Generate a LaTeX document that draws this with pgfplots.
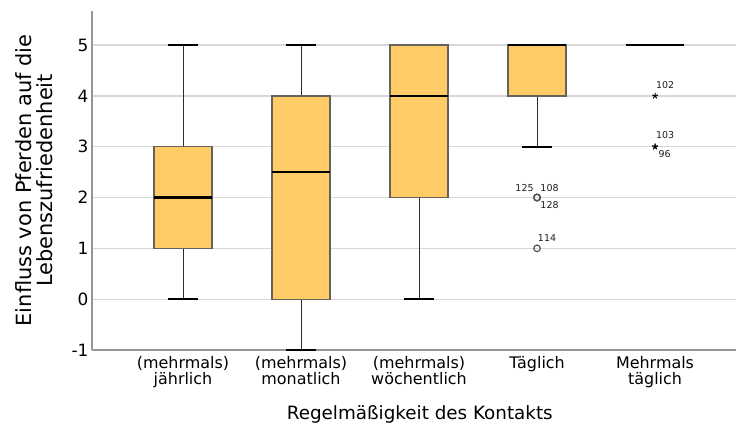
\documentclass[border=0pt]{standalone}
\usepackage{fontspec}
\setmainfont{DejaVu Sans}
\usepackage{pgfplots}
\pgfplotsset{compat=1.18}
\usepgfplotslibrary{statistics}

\definecolor{boxfill}{RGB}{254,203,103}
\definecolor{boxedge}{RGB}{100,98,90}
\definecolor{gridgray}{RGB}{215,215,215}
\definecolor{spinegray}{RGB}{150,150,150}
\definecolor{whiskergray}{RGB}{45,45,45}
\definecolor{outliergray}{RGB}{85,85,85}
\definecolor{labelgray}{RGB}{30,30,30}

\begin{document}
\begin{tikzpicture}[
  lab/.style={font=\fontsize{9.5}{9.5}\selectfont, text=labelgray, inner sep=0pt},
]
\begin{axis}[
  scale only axis, width=644bp, height=339bp,
  xmin=0.229, xmax=5.686, ymin=-1, ymax=5.67,
  axis x line*=bottom, axis y line*=left,
  axis line style={spinegray, line width=1.5bp},
  major tick length=0pt,
  ytick={-1,0,1,2,3,4,5},
  ymajorgrids, grid style={gridgray, line width=1.3bp},
  xtick={1,2,3,4,5},
  xticklabels={{(mehrmals)\\jährlich},{(mehrmals)\\monatlich},{(mehrmals)\\wöchentlich},{Täglich},{Mehrmals\\täglich}},
  xticklabel style={align=center, font=\fontsize{16}{16}\selectfont, yshift=-3bp},
  yticklabel style={font=\fontsize{17}{17}\selectfont},
  /pgf/number format/assume math mode=true,
  xlabel={Regelmäßigkeit des Kontakts},
  xlabel style={font=\fontsize{18.4}{18.4}\selectfont, at={(axis description cs:0.509,0)}, anchor=base, yshift=-69bp},
  ylabel={Einfluss von Pferden auf die\\Lebenszufriedenheit},
  ylabel style={font=\fontsize{21}{21}\selectfont, align=center, at={(axis description cs:-0.061,0.5)}, anchor=south, inner sep=0pt},
  boxplot/draw direction=y,
  boxplot/box extend=0.49,
  boxplot/whisker extend=0.25,
  boxplot/every box/.style={draw=boxedge, fill=boxfill, line width=1.3bp},
  boxplot/every median/.style={draw=black, line width=2.5bp},
  boxplot/draw/lower whisker/.code={%
    \draw[whiskergray, line width=0.9bp]
      (boxplot box cs:\pgfplotsboxplotvalue{lower whisker},0.5) --
      (boxplot box cs:\pgfplotsboxplotvalue{lower quartile},0.5);
    \draw[black, line width=2.2bp]
      (boxplot whisker cs:\pgfplotsboxplotvalue{lower whisker},0) --
      (boxplot whisker cs:\pgfplotsboxplotvalue{lower whisker},1);
  },
  boxplot/draw/upper whisker/.code={%
    \draw[whiskergray, line width=0.9bp]
      (boxplot box cs:\pgfplotsboxplotvalue{upper quartile},0.5) --
      (boxplot box cs:\pgfplotsboxplotvalue{upper whisker},0.5);
    \draw[black, line width=2.2bp]
      (boxplot whisker cs:\pgfplotsboxplotvalue{upper whisker},0) --
      (boxplot whisker cs:\pgfplotsboxplotvalue{upper whisker},1);
  },
]
% (mehrmals) jährlich
\addplot[boxplot prepared={draw position=1,
  lower whisker=0, lower quartile=1, median=2, upper quartile=3, upper whisker=5}]
  coordinates {};
% (mehrmals) monatlich
\addplot[boxplot prepared={draw position=2,
  lower whisker=-1, lower quartile=0, median=2.5, upper quartile=4, upper whisker=5}]
  coordinates {};
% (mehrmals) wöchentlich
\addplot[boxplot prepared={draw position=3,
  lower whisker=0, lower quartile=2, median=4, upper quartile=5, upper whisker=5}]
  coordinates {};
% Täglich, with outliers
\addplot[mark=o, mark size=3.3bp,
  mark options={draw=outliergray, line width=1.2bp, fill=white},
  boxplot prepared={draw position=4,
  lower whisker=3, lower quartile=4, median=5, upper quartile=5, upper whisker=5}]
  table[row sep=\\, y index=0] {y\\ 2\\ 2\\ 2\\ 1\\};
% Mehrmals täglich, with extreme values
\addplot[mark=star, mark size=3bp,
  mark options={draw=black, line width=1bp},
  boxplot prepared={draw position=5,
  lower whisker=5, lower quartile=5, median=5, upper quartile=5, upper whisker=5}]
  table[row sep=\\, y index=0] {y\\ 4\\ 3\\ 3\\};

% case numbers of the outliers
\node[lab, xshift=-12.5bp, yshift=9bp]  at (axis cs:4,2) {125};
\node[lab, xshift=12.5bp,  yshift=9bp]  at (axis cs:4,2) {108};
\node[lab, xshift=12.5bp,  yshift=-7.8bp] at (axis cs:4,2) {128};
\node[lab, xshift=10bp,    yshift=10.7bp] at (axis cs:4,1) {114};
\node[lab, xshift=10bp,    yshift=11.3bp] at (axis cs:5,4) {102};
\node[lab, xshift=10bp,    yshift=11.3bp] at (axis cs:5,3) {103};
\node[lab, xshift=9.5bp,   yshift=-7.4bp] at (axis cs:5,3) {96};
\end{axis}
\pgfresetboundingbox
\path[use as bounding box] (-92bp,-74bp) rectangle (644bp,350bp);
\end{tikzpicture}
\end{document}
